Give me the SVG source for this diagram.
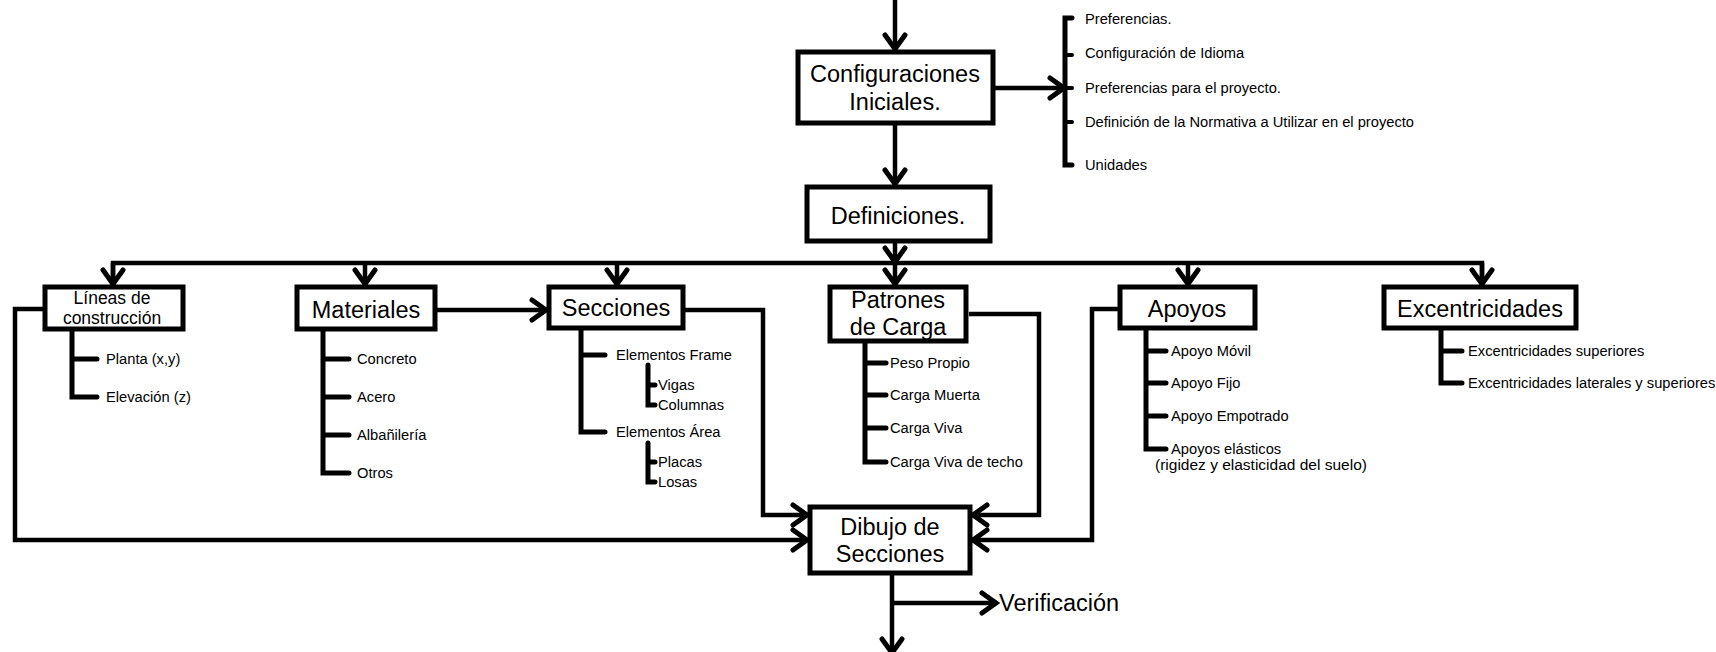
<svg xmlns="http://www.w3.org/2000/svg" width="1716" height="652" viewBox="0 0 1716 652">
<style>
.box{fill:#fff;stroke:#000;stroke-width:5}
.t{font-family:"Liberation Sans",Arial,sans-serif;fill:#000}
.big{font-size:23.5px;text-anchor:middle}
.mid{font-size:17.5px;text-anchor:middle}
.sm{font-size:14.7px}
.conn{fill:none;stroke:#000;stroke-width:4.5;stroke-linejoin:miter}
.tree{fill:none;stroke:#000;stroke-width:5;stroke-linecap:round;stroke-linejoin:miter}
.tick{fill:none;stroke:#000;stroke-width:4;stroke-linecap:round}
</style>
<defs>
<marker id="arr" markerUnits="userSpaceOnUse" markerWidth="30" markerHeight="30" viewBox="-20 -15 30 30" refX="1" refY="0" orient="auto">
<path d="M-14,-10 L0,0 L-14,10" fill="none" stroke="#000" stroke-width="5" stroke-linecap="round"/>
</marker>
</defs>

<g id="connectors">
<line class="conn" x1="895" y1="0" x2="895" y2="50" marker-end="url(#arr)"/>
<line class="conn" x1="995" y1="88" x2="1065" y2="88" marker-end="url(#arr)"/>
<line class="conn" x1="895" y1="125" x2="895" y2="185" marker-end="url(#arr)"/>
<line class="conn" x1="895" y1="242" x2="895" y2="263" marker-end="url(#arr)"/>
<path class="conn" d="M113,285 V263 H1482 V285"/>
<line class="conn" x1="113" y1="263" x2="113" y2="285" marker-end="url(#arr)"/>
<line class="conn" x1="365" y1="263" x2="365" y2="285" marker-end="url(#arr)"/>
<line class="conn" x1="617" y1="263" x2="617" y2="285" marker-end="url(#arr)"/>
<line class="conn" x1="895" y1="263" x2="895" y2="285" marker-end="url(#arr)"/>
<line class="conn" x1="1188" y1="263" x2="1188" y2="285" marker-end="url(#arr)"/>
<line class="conn" x1="1482" y1="263" x2="1482" y2="285" marker-end="url(#arr)"/>
<line class="conn" x1="437" y1="310" x2="547" y2="310" marker-end="url(#arr)"/>
<path class="conn" d="M685,310 H763 V515 H808" marker-end="url(#arr)"/>
<path class="conn" d="M43,309 H15 V540 H808" marker-end="url(#arr)"/>
<path class="conn" d="M969,314 H1039 V515 H972" marker-end="url(#arr)"/>
<path class="conn" d="M1118,309 H1092 V540 H972" marker-end="url(#arr)"/>
<line class="conn" x1="892" y1="575" x2="892" y2="654" marker-end="url(#arr)"/>
<line class="conn" x1="892" y1="603" x2="997" y2="603" marker-end="url(#arr)"/>
</g>

<g id="config">
<rect class="box" x="798" y="52" width="195" height="71"/>
<text class="t big" x="895" y="82">Configuraciones</text>
<text class="t big" x="895" y="110">Iniciales.</text>
</g>
<g id="config-list">
<path class="tree" d="M1072,18 H1065 V165 H1072"/>
<path class="tick" d="M1065,55 H1072 M1065,88 H1072 M1065,122 H1072"/>
<text class="t sm" x="1085" y="24">Preferencias.</text>
<text class="t sm" x="1085" y="58">Configuración de Idioma</text>
<text class="t sm" x="1085" y="93">Preferencias para el proyecto.</text>
<text class="t sm" x="1085" y="127">Definición de la Normativa a Utilizar en el proyecto</text>
<text class="t sm" x="1085" y="170">Unidades</text>
</g>

<g id="definiciones">
<rect class="box" x="807" y="187" width="183" height="54"/>
<text class="t big" x="898" y="224">Definiciones.</text>
</g>

<g id="lineas">
<rect class="box" x="45" y="287" width="138" height="42"/>
<text class="t mid" x="112" y="304">Líneas de</text>
<text class="t mid" x="112" y="324">construcción</text>
<path class="tree" d="M72,331 V397 H97 M72,359 H97"/>
<text class="t sm" x="106" y="364">Planta (x,y)</text>
<text class="t sm" x="106" y="402">Elevación (z)</text>
</g>

<g id="materiales">
<rect class="box" x="297" y="287" width="138" height="42"/>
<text class="t big" x="366" y="318">Materiales</text>
<path class="tree" d="M323,330 V473 H349 M323,359 H349 M323,397 H349 M323,435 H349"/>
<text class="t sm" x="357" y="364">Concreto</text>
<text class="t sm" x="357" y="402">Acero</text>
<text class="t sm" x="357" y="440">Albañilería</text>
<text class="t sm" x="357" y="478">Otros</text>
</g>

<g id="secciones">
<rect class="box" x="549" y="287" width="134" height="41"/>
<text class="t big" x="616" y="316">Secciones</text>
<path class="tree" d="M581,330 V432 H605 M581,355 H605"/>
<text class="t sm" x="616" y="360">Elementos Frame</text>
<text class="t sm" x="616" y="437">Elementos Área</text>
<path class="tree" d="M648,365 V405 H655 M648,385 H655"/>
<text class="t sm" x="658" y="390">Vigas</text>
<text class="t sm" x="658" y="410">Columnas</text>
<path class="tree" d="M648,443 V482 H655 M648,462 H655"/>
<text class="t sm" x="658" y="467">Placas</text>
<text class="t sm" x="658" y="487">Losas</text>
</g>

<g id="patrones">
<rect class="box" x="830" y="287" width="136" height="54"/>
<text class="t big" x="898" y="308">Patrones</text>
<text class="t big" x="898" y="335">de Carga</text>
<path class="tree" d="M865,342 V462 H886 M865,363 H886 M865,395 H886 M865,428 H886"/>
<text class="t sm" x="890" y="368">Peso Propio</text>
<text class="t sm" x="890" y="400">Carga Muerta</text>
<text class="t sm" x="890" y="433">Carga Viva</text>
<text class="t sm" x="890" y="467">Carga Viva de techo</text>
</g>

<g id="apoyos">
<rect class="box" x="1120" y="287" width="135" height="41"/>
<text class="t big" x="1187" y="317">Apoyos</text>
<path class="tree" d="M1146,330 V449 H1166 M1146,351 H1166 M1146,383 H1166 M1146,416 H1166"/>
<text class="t sm" x="1171" y="356">Apoyo Móvil</text>
<text class="t sm" x="1171" y="388">Apoyo Fijo</text>
<text class="t sm" x="1171" y="421">Apoyo Empotrado</text>
<text class="t sm" x="1171" y="454">Apoyos elásticos</text>
<text class="t sm" x="1155" y="470" style="font-size:15.5px">(rigidez y elasticidad del suelo)</text>
</g>

<g id="excentricidades">
<rect class="box" x="1384" y="287" width="192" height="41"/>
<text class="t big" x="1480" y="317">Excentricidades</text>
<path class="tree" d="M1441,330 V383 H1462 M1441,351 H1462"/>
<text class="t sm" x="1468" y="356">Excentricidades superiores</text>
<text class="t sm" x="1468" y="388">Excentricidades laterales y superiores</text>
</g>

<g id="dibujo">
<rect class="box" x="810" y="507" width="160" height="66"/>
<text class="t big" x="890" y="535">Dibujo de</text>
<text class="t big" x="890" y="562">Secciones</text>
</g>

<g id="verificacion">
<text class="t big" x="999" y="611" style="text-anchor:start">Verificación</text>
</g>
</svg>
